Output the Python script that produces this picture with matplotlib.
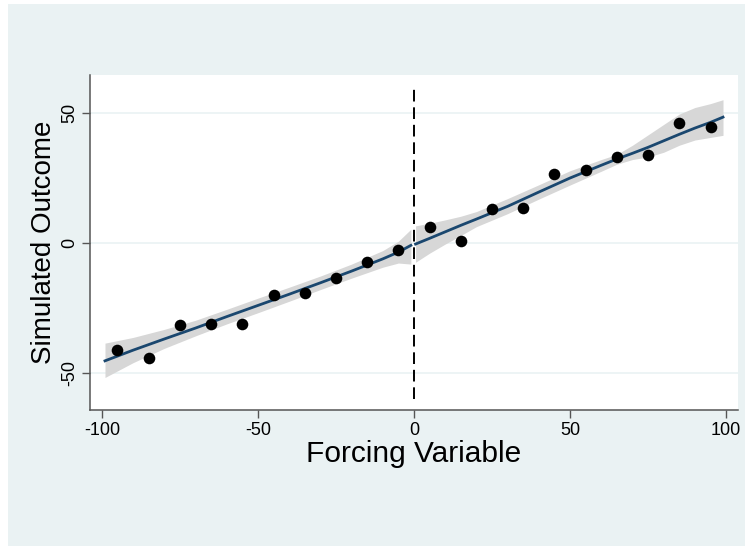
import matplotlib
matplotlib.use("Agg")
import matplotlib.pyplot as plt
from matplotlib.patches import Rectangle

# binned means of the outcome
bin_x = [-95, -85, -75, -65, -55, -45, -35, -25, -15, -5,
         5, 15, 25, 35, 45, 55, 65, 75, 85, 95]
bin_y = [-41.3, -44.3, -31.7, -31.1, -31.3, -20.1, -19.3, -13.7, -7.4, -2.7,
         5.9, 0.5, 12.8, 13.4, 26.5, 27.8, 33.0, 33.6, 46.2, 44.5]

# left of cutoff: fit and confidence band
left_x = [-99, -90, -80, -70, -60, -50, -40, -30, -20, -10, -5, -1]
left_fit = [-45.4, -41.3, -37.0, -32.8, -28.4, -24.1, -19.8, -15.4, -10.9, -6.2, -3.6, -1.0]
left_hi = [-38.6, -36.4, -33.3, -29.8, -25.6, -21.3, -17.1, -12.8, -8.2, -3.0, 0.6, 5.2]
left_lo = [-51.8, -46.1, -40.6, -35.8, -31.2, -26.9, -22.5, -18.0, -13.6, -9.4, -7.8, -8.2]

# right of cutoff
right_x = [0.5, 5, 10, 15, 20, 30, 40, 50, 60, 65, 70, 75, 80, 85, 90, 95, 99]
right_fit = [-0.5, 1.7, 4.2, 6.7, 9.1, 14.0, 19.5, 24.9, 29.8, 32.2, 34.4, 36.7, 39.2, 41.7, 44.1, 46.3, 48.3]
right_hi = [6.5, 7.5, 8.8, 10.2, 12.0, 17.0, 22.3, 27.7, 32.0, 34.0, 37.5, 41.5, 45.5, 49.5, 52.0, 53.5, 55.0]
right_lo = [-7.5, -4.0, -0.5, 2.8, 6.2, 11.2, 16.8, 22.2, 27.5, 30.2, 32.0, 33.0, 34.8, 37.5, 39.5, 40.5, 41.3]

cutoff = 0
xticks = [-100, -50, 0, 50, 100]
yticks = [-50, 0, 50]

plt.rcParams['font.family'] = ['Liberation Sans', 'DejaVu Sans']
plt.rcParams['axes.unicode_minus'] = False

bg = '#EAF2F3'
navy = '#1A476F'
band = '#D7D7D7'

fig = plt.figure(figsize=(7.45, 5.46), dpi=100)
fig.patch.set_facecolor('white')
fig.patches.append(Rectangle((8 / 745, 0), 1, 1 - 4 / 546, transform=fig.transFigure,
                             facecolor=bg, edgecolor='none', zorder=-10))

ax = fig.add_axes([90 / 745, 1 - 410 / 546, 648 / 745, 335 / 546])
ax.set_facecolor('white')

ax.fill_between(left_x, left_lo, left_hi, color=band, lw=0, zorder=1)
ax.fill_between(right_x, right_lo, right_hi, color=band, lw=0, zorder=1)
ax.plot(left_x, left_fit, color=navy, lw=2, zorder=3)
ax.plot(right_x, right_fit, color=navy, lw=2, zorder=3)
ax.scatter(bin_x, bin_y, s=70, color='black', zorder=4, lw=0)
ax.plot([cutoff, cutoff], [-60, 60], color='black', lw=1.4, ls=(0, (6, 3)), zorder=5)

ax.set_xlim(-103.8, 103.8)
ax.set_ylim(-64.3, 64.5)
ax.set_xticks(xticks)
ax.set_yticks(yticks)
ax.set_yticklabels([str(t) for t in yticks], rotation=90, va='center')
ax.grid(axis='y', color=bg, lw=1.2, zorder=0)
ax.set_axisbelow(True)

for s in ['top', 'right']:
    ax.spines[s].set_visible(False)
for s in ['left', 'bottom']:
    ax.spines[s].set_color('#555555')
    ax.spines[s].set_linewidth(1.1)
ax.tick_params(direction='out', length=5.5, width=1, color='#555555', labelsize=13, pad=3)

ax.set_xlabel('Forcing Variable', fontsize=21.5, labelpad=1)
ax.set_ylabel('Simulated Outcome', fontsize=20, labelpad=3)

fig.savefig('out.png', dpi=100)
